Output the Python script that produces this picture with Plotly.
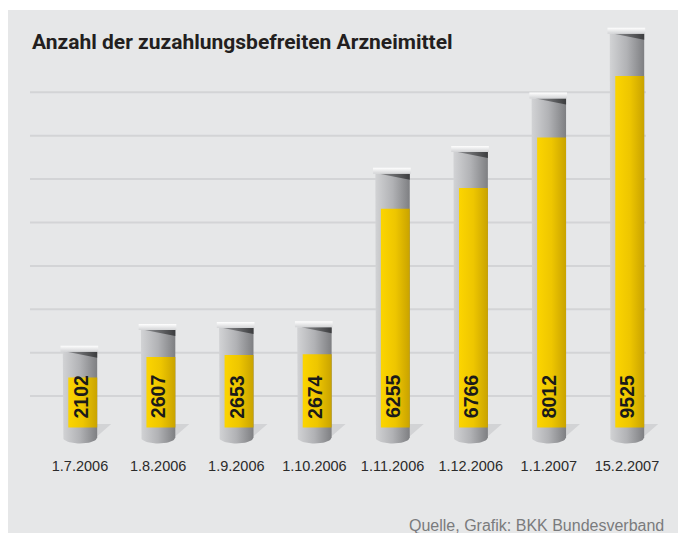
import numpy as np
import plotly.graph_objects as go

# ---------------- data ----------------
DATES = ["1.7.2006", "1.8.2006", "1.9.2006", "1.10.2006",
         "1.11.2006", "1.12.2006", "1.1.2007", "15.2.2007"]
COUNTS = [2102, 2607, 2653, 2674, 6255, 6766, 8012, 9525]
TITLE = "Anzahl der zuzahlungsbefreiten Arzneimittel"
SOURCE = "Quelle, Grafik: BKK Bundesverband"

# ---------------- layout constants (figure pixels) ----------------
W, H = 678, 525
MB = 78                      # bottom margin (px)
PH = H - MB                  # plot height (px)
Y_RANGE = [192, 11202]
X_RANGE = [-0.9214, 7.7553]
UPY = (Y_RANGE[1] - Y_RANGE[0]) / PH     # data units per px (vertical)
UPX = (X_RANGE[1] - X_RANGE[0]) / W      # data units per px (horizontal)


def py(p):
    """pixel row (from figure top) -> y data value"""
    return Y_RANGE[1] - p * UPY


BG = "#e6e7e8"
GRID = "#d3d4d6"
SHADOW = "#d2d3d5"
TUBE_SCALE = [[0, "#d2d3d5"], [0.5, "#b1b2b5"], [1, "#7e7f82"]]
YELLOW_SCALE = [[0, "#fcd500"], [0.5, "#eec600"], [1, "#c9a300"]]
CAP_SCALE = [[0, "#d3d4d6"], [1, "#ffffff"]]
WEDGE_SCALE = [[0, "#8e8f92"], [1, "#3c3d3f"]]

HALF_W = 17.2 * UPX
Y_INSET = 5.5 * UPX
CAP_L, CAP_R, CAP_H = 2.3 * UPX, 1.0 * UPX, 6 * UPY
WEDGE_IN, WEDGE_H = 4 * UPX, 6 * UPY
SHADOW_W, SHADOW_H = 14 * UPX, 14 * UPY
YB = py(419.5)               # yellow base
TB = py(429.5)               # end of straight tube side
ELL = 6 * UPY                # depth of rounded bottom
SHADOW_TOP = py(416)
HEADROOM_BASE, HEADROOM_RATE = 520, 0.055

fig = go.Figure()


def poly(xs, ys, grad=None, color=None):
    kw = dict(x=list(xs) + [xs[0]], y=list(ys) + [ys[0]], mode="lines",
              fill="toself", line=dict(width=0), hoverinfo="skip",
              showlegend=False)
    if grad is not None:
        kw["fillgradient"] = grad
    else:
        kw["fillcolor"] = color
    fig.add_trace(go.Scatter(**kw))


t = np.linspace(np.pi, 0, 25)
for i, v in enumerate(COUNTS):
    L, R = i - HALF_W, i + HALF_W
    top = v * (1 + HEADROOM_RATE) + HEADROOM_BASE
    # ground shadow
    poly([R - 2 * UPX, R + SHADOW_W, R - 2 * UPX],
         [SHADOW_TOP, SHADOW_TOP, SHADOW_TOP - SHADOW_H], color=SHADOW)
    # tube body with rounded bottom
    xs = [L] + list(i + HALF_W * np.cos(t)) + [R]
    ys = [top] + list(TB - ELL * np.sin(t)) + [top]
    poly(xs, ys, grad=dict(type="horizontal", colorscale=TUBE_SCALE))
    # yellow value bar
    poly([L + Y_INSET, R, R, L + Y_INSET], [YB, YB, v, v],
         grad=dict(type="horizontal", colorscale=YELLOW_SCALE))
    # dark wedge below the cap
    poly([L + WEDGE_IN, R, R], [top, top, top - WEDGE_H],
         grad=dict(type="horizontal", colorscale=WEDGE_SCALE))
    # white cap
    poly([L - CAP_L, R + CAP_R, R + CAP_R, L - CAP_L],
         [top, top, top + CAP_H, top + CAP_H],
         grad=dict(type="vertical", colorscale=CAP_SCALE))

# ---------------- shapes: panel + grid ----------------
shapes = [dict(type="rect", xref="paper", yref="paper",
               x0=-0.01, x1=1.01, y0=-MB / PH - 0.01, y1=(PH - 2) / PH,
               fillcolor=BG, line=dict(width=0), layer="below")]
GRID_TOP_PX, GRID_STEP_PX, GRID_COUNT = 84.3, 43.4, 8
for k in range(GRID_COUNT):
    gy = py(GRID_TOP_PX + k * GRID_STEP_PX)
    shapes.append(dict(type="line", xref="paper", yref="y",
                       x0=22 / W, x1=638 / W, y0=gy, y1=gy,
                       line=dict(color=GRID, width=2), layer="below"))

# ---------------- annotations ----------------
SANS = "Liberation Sans, Arial, Helvetica, sans-serif"
TITLE_FONT = "Roboto, Liberation Sans, Arial, sans-serif"
annotations = []
for i, v in enumerate(COUNTS):
    annotations.append(dict(x=i, y=YB, xref="x", yref="y", text=f"<b>{v}</b>",
                            showarrow=False, textangle=-90, xanchor="center",
                            yanchor="bottom", yshift=7,
                            font=dict(family=SANS, size=19.5, color="#1a1a1a")))
annotations.append(dict(x=658 / W, y=-(525 - PH) / PH, xref="paper", yref="paper",
                        text=SOURCE, showarrow=False, xanchor="right",
                        yanchor="bottom", yshift=-3,
                        font=dict(family=SANS, size=16, color="#7a7b7d")))

fig.update_layout(
    width=W, height=H,
    margin=dict(l=0, r=0, t=0, b=MB, pad=0),
    paper_bgcolor="white", plot_bgcolor="rgba(0,0,0,0)",
    showlegend=False,
    title=dict(text=f"<b>{TITLE}</b>", x=24 / W, xanchor="left",
               y=1 - 34 / H, yanchor="middle", xref="container",
               yref="container",
               font=dict(family=TITLE_FONT, size=21, color="#231f20")),
    xaxis=dict(range=X_RANGE, tickvals=list(range(len(DATES))),
               ticktext=DATES, showgrid=False, zeroline=False,
               showline=False, ticks="", fixedrange=True,
               tickfont=dict(family=SANS, size=14.5, color="#2b2b2b")),
    yaxis=dict(range=Y_RANGE, visible=False, showgrid=False,
               zeroline=False, fixedrange=True),
    shapes=shapes,
    annotations=annotations,
)

fig.write_html("out.html")
